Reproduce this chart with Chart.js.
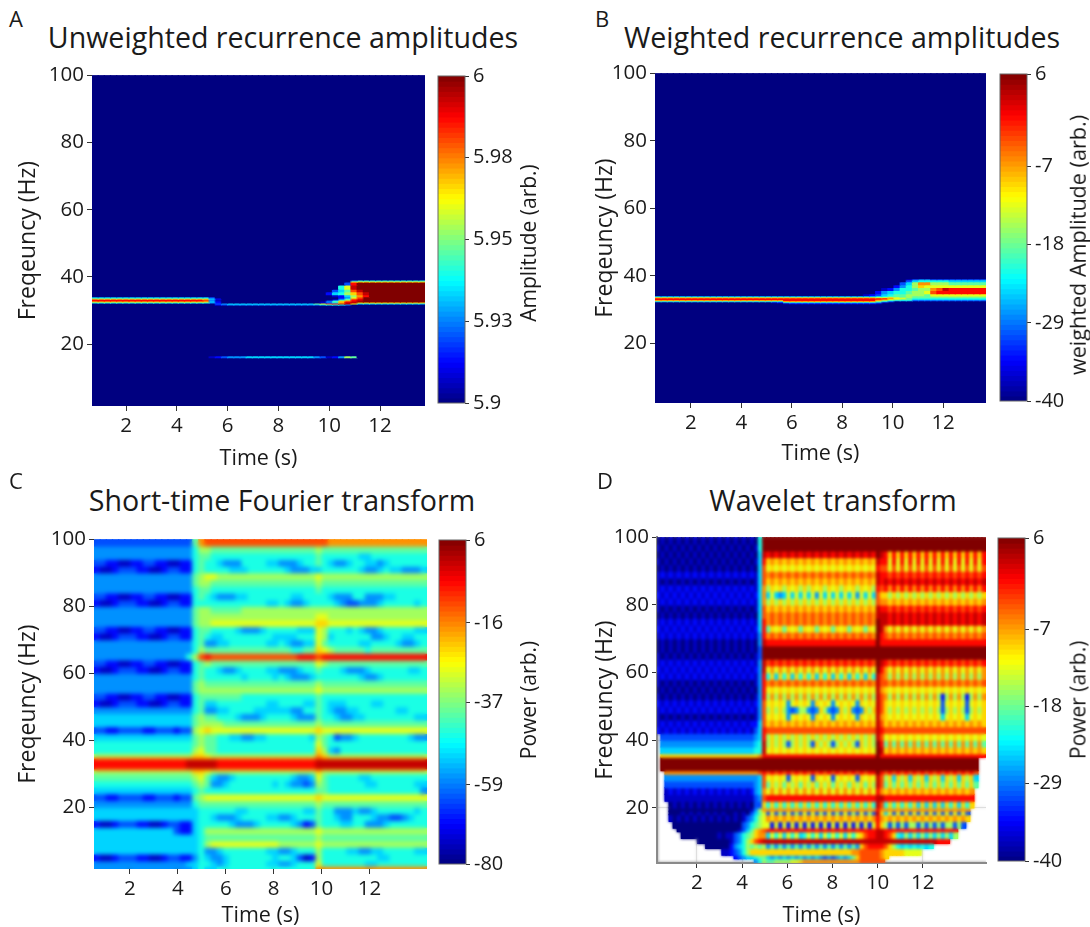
<!DOCTYPE html>
<html>
<head>
<meta charset="utf-8">
<title>Recurrence amplitudes</title>
<script src="https://cdn.jsdelivr.net/npm/chart.js@4"></script>
<style>
  html, body { margin: 0; padding: 0; background: #fff; }
  body { position: relative; width: 1090px; height: 927px; overflow: hidden; font-family: "Open Sans", sans-serif; color: #1a1a1a; }
  canvas { position: absolute; }
  .label { position: absolute; white-space: nowrap; line-height: 1; transform: translate(-50%, -50%); }
  .side { position: absolute; white-space: nowrap; line-height: 1; writing-mode: vertical-rl; transform: translate(-50%, -50%) rotate(180deg); }
</style>
</head>
<body>
<script>
// ===============================
// Data (cells: hex level 0-f from low to high on the colour bar, '.' = no data)
// ===============================
const blankRow = '0'.repeat(54);

const timeTicksAll = [2, 4, 6, 8, 10, 12];
const freqTicks = [20, 40, 60, 80, 100];

const barTicksA = [5.9, 5.925, 5.95, 5.975, 6];
const barLabelsA = ['5.9', '5.93', '5.95', '5.98', '6'];
const barTicksB = [-40, -29, -18, -7, 6];
const barLabelsB = ['-40', '-29', '-18', '-7', '6'];
const barTicksC = [-80, -59, -37, -16, 6];
const barLabelsC = ['-80', '-59', '-37', '-16', '6'];

const edgesA = [100, 39.1, 38.8, 38.5, 37.6, 36.4, 35.6, 34.7, 34.1, 33.8, 33.5, 33.2, 32.9, 32.6, 32.3, 32.0, 31.7, 16.6, 16.0, 1.6];
const rowsA = [
  blankRow,
  '000000 000000 000000 000000 000000 000000 000000 466666 666666',
  '000000 000000 000000 000000 000000 000000 000000 9aaaaa aaaaaa',
  '000000 000000 000000 000000 000000 000000 000003 dfffff ffffff',
  '000000 000000 000000 000000 000000 000000 000069 efffff ffffff',
  '000000 000000 000000 000000 000000 000000 000357 ceffff ffffff',
  '000000 000000 000000 000000 000000 000000 002568 acefff ffffff',
  '000000 000000 000000 000000 000000 000000 000125 8bdfff ffffff',
  '555555 555555 555555 530000 000000 000000 000024 9cffff ffffff',
  '999999 999999 999999 952000 000000 000000 000036 bdffff ffffff',
  'dddddd dddddd dddddd c41000 000000 000000 000258 deffff ffffff',
  'dddddd dddddd dddddd c41000 000000 000000 00369b deffff ffffff',
  'aaaaaa aaaaaa aaaaaa a52000 000000 000000 0147bd efffff ffffff',
  '666666 666666 666666 642000 000000 000000 0135ae eaaaaa aaaaaa',
  '000000 000000 000000 003455 555555 555555 79cdee 955555 555555',
  '000000 000000 000000 002344 444444 444444 456664 000000 000000',
  blankRow,
  '000000 000000 000000 012344 455555 555555 431248 700000 000000',
  blankRow
];

const edgesB = [100, 39.2, 38.9, 38.3, 37.4, 36.6, 35.7, 34.8, 34.2, 33.9, 33.6, 33.3, 33.0, 32.7, 32.4, 32.1, 31.8, 2.4];
const rowsB = [
  blankRow,
  '000000 000000 000000 000000 000000 000000 000001 344333 333333',
  '000000 000000 000000 000000 000000 000000 000003 566666 555555',
  '000000 000000 000000 000000 000000 000000 000035 8bb888 777777',
  '000000 000000 000000 000000 000000 000000 000246 8a9999 999999',
  '000000 000000 000000 000000 000000 000000 012466 788bce dddddd',
  '000000 000000 000000 000000 000000 000000 245667 889cdd dddddd',
  '000000 000000 000000 000000 000000 000012 356778 887999 999999',
  '555555 555555 555555 555555 555555 555555 667778 777888 888888',
  'aaaaaa aaaaaa aaaaaa aaaaaa aaaaaa aaaaaa 99a988 777777 777777',
  'dddddd dddddd dddddd dddddd dddddd dddddd ddb997 666666 666666',
  'dddddd dddddd dddddd dddddd dddddd dddddd cb9877 555555 555555',
  'aaaaaa aaaaaa aaaaaa aaaddd dddddd dddddd a86555 333333 333333',
  '555555 555555 555555 555aaa aaaaaa aaaaaa 753000 000000 000000',
  '000000 000000 000000 012555 555555 555555 410000 000000 000000',
  '000000 000000 000000 000122 222222 222222 100000 000000 000000',
  blankRow
];

const edgesC = [100, 98, 96, 94, 92, 90, 88, 86, 84, 82, 80, 78, 76, 74, 72, 70, 68, 66, 64, 62, 60, 58, 56, 54, 52, 50, 48, 46, 44, 42, 40, 38, 36, 35, 34.5, 31.5, 31, 30, 28, 26, 24, 22, 20, 18, 16, 14, 12, 10, 8, 6, 4, 2.5, 1.5];
const rowsC = [
  '333333 333333 33337b cccccc cccccc cccccc ccbbbb bbbbbb bbbbbb',
  '444444 444444 444468 877777 777777 777777 877777 777777 777777',
  '444444 444444 444467 766666 666666 666666 766666 655666 666666',
  '332211 223322 112267 665444 666655 444566 765445 665545 666666',
  '211233 322112 332267 666655 566666 654445 566666 654456 554445',
  '444444 444444 444478 998888 888888 888888 988888 888888 888888',
  '444444 444444 444478 877777 777777 777777 877777 777777 777777',
  '444444 444444 444467 766666 666666 666666 766666 666666 666666',
  '332211 223322 112267 654445 566666 665566 665444 664445 566666',
  '211233 322112 332266 666666 666655 654456 666543 344456 666656',
  '444444 444444 444478 877777 888888 888888 888888 888888 888888',
  '444444 444444 444478 888888 888888 888888 998888 888888 888888',
  '444444 444444 444478 899999 999999 999999 aa9999 999999 999999',
  '332211 223322 112267 766665 444566 666555 986665 654456 666655',
  '211233 322112 332267 655666 666665 555666 985666 666445 665566',
  '444444 444444 444467 445566 666655 654455 976666 655666 654456',
  '444444 444444 444468 777777 777777 776677 a98777 776777 777777',
  '444444 444444 44468c dccccc cccccc cccddd cddddd dddddd dddddd',
  '332211 223322 112267 877777 777777 777777 987777 777777 777777',
  '211233 322112 332267 665445 666655 444566 766654 445666 666556',
  '444444 444444 444467 666666 566665 654445 666666 654456 666666',
  '444444 444444 444478 777777 777777 777777 877777 777777 777777',
  '444444 444444 444478 888888 888888 888888 988888 888888 888888',
  '332211 223322 112267 777777 666666 666666 766666 666666 666666',
  '211233 322112 332267 556666 666655 666655 765556 666556 666666',
  '444444 444444 444467 445566 665555 554466 765445 566666 655666',
  '555555 555555 555578 776665 444566 665444 766544 556666 666655',
  '555555 555555 555578 888777 777777 777777 877777 777777 777777',
  '332233 332233 323389 a99999 999999 999999 a99999 999999 999999',
  '555555 555555 555578 776655 445566 666665 876344 566666 666544',
  '666666 666666 666678 776666 666666 666666 976666 666666 666666',
  '666666 666666 666689 776666 666666 666666 a85466 666666 666666',
  '888888 888888 8888aa 988888 888888 888888 ba8888 888888 888888',
  'bbbbbb bbbbbb bbbbbb bbbbbb bbbbbb bbbbbb cbbbbb bbbbbb bbbbbb',
  'dddddd dddddd dddeee eedddd dddddd dddddd eeeeee eeeeee eeeeee',
  'bbbbbb bbbbbb bbbbbb bbbbbb bbbbbb bbbbbb cbbbbb bbbbbb bbbbbb',
  '888888 888888 8888aa 988888 888888 888888 a88888 888888 888888',
  '777777 777777 777789 754456 666666 665445 976666 655666 666666',
  '666666 666666 666678 744566 666665 654434 876666 665566 666655',
  '555555 555555 555567 666666 666666 666666 776666 666666 666664',
  '332233 332233 323378 999999 999999 999999 a99999 999999 999999',
  '444444 444444 444467 777777 777777 777777 877777 777777 777777',
  '555555 555555 555556 666665 566666 666655 766444 544566 666656',
  '555555 555555 555556 654445 666655 445666 766544 666544 334566',
  '211233 322112 332256 666654 445666 665423 766655 664445 666666',
  '555555 555555 532256 888888 888888 888888 988888 888888 888888',
  '555555 555555 555556 777777 777777 777777 877777 777777 777777',
  '555555 555555 555556 899999 999999 888888 988888 888888 888888',
  '555555 555555 555556 445666 666655 445666 866665 544556 666655',
  '211233 322112 332246 544566 666665 665312 866666 666655 666666',
  '444444 444444 444556 654566 666655 445666 966666 665566 666666',
  '444444 444444 444456 556666 666666 666666 bbbbbb bbbbbb bbbbbb'
];

const edgesD = [100, 98, 96, 94, 92, 90, 88, 86, 84, 82, 80, 78, 76, 74, 72, 70, 68, 66, 64, 62, 60, 58, 56, 54, 52, 50, 48, 46, 44, 42, 40, 38, 36, 35, 31, 30, 28, 26, 24, 22, 20, 19, 18, 16, 14, 13, 11, 9.5, 8, 6, 5, 3.7];
const rowsD = [
  '010101010 101010101 01010106f fffffffff fffffffff fffffffff fffffffff fffffffff fffffffff',
  '101010101 010101010 10101016f fffffffff fffffffff fffffffff fffffffff fffffffff fffffffff',
  '010101010 101010101 01010105e dedededed edededede dedededed fedadadad adadadada dadadadad',
  '101010101 010101010 10101015d ababababa babababab ababababa edd9d9d9d 9d9d9d9d9 d9d9d9d9d',
  '010101010 101010101 01010105c 9a9a9a9a9 a9a9a9a9a 9a9a9a9a9 dcc9c9c9c 9c9c9c9c9 c9c9c9c9c',
  '121212121 212121212 12121215c bcbcbcbcb cbcbcbcbc bcbcbcbcb eddcdcdcd cdcdcdcdc dcdcdcdcd',
  '101010101 010101010 10101015c ababababa babababab ababababa edededede dedededed edededede',
  '121212121 212121212 12121215b 8a9a8a9a8 a8a9a8a9a 8a9a8a9a8 dcdbdbdbd bdbdbdbdb dbdbdbdbd',
  '212121212 121212121 21212125b 595459595 959495959 595949595 caa8a8a8a 8a8a8a8a8 a8a8a8a8a',
  '121212121 212121212 12121215b 8a8a8a8a8 a8a8a8a8a 8a8a8a8a8 cbbababab ababababa babababab',
  '101010101 010101010 10101015c ababababa babababab ababababa eddcdcdcd cdcdcdcdc dcdcdcdcd',
  '010101010 101010101 01010105c bcbcbcbcb cbcbcbcbc bcbcbcbcb eeededede dedededed edededede',
  '121212121 212121212 12121215d bcbcbcbcb cbcbcbcbc bcbcbcbcb feededede dedededed edededede',
  '212121212 121212121 21212125d 7a9a7a9a7 a9a7a9a7a 9a7a9a7a9 feb9b9b9b 9b9b9b9b9 b9b9b9b9b',
  '121212121 212121212 12121214d bcbcbcbcb cbcbcbcbc bcbcbcbcb fdcbcbcbc bcbcbcbcb cbcbcbcbc',
  '010101010 101010101 01010104e ddddddddd ddddddddd ddddddddd fdddddddd ddddddddd ddddddddd',
  '010101010 101010101 01010103f fffffffff fffffffff fffffffff fffffffff fffffffff fffffffff',
  '101010101 010101010 10101013f fffffffff fffffffff fffffffff fffffffff fffffffff fffffffff',
  '121212121 212121212 12121214e cdcdcdcdc dcdcdcdcd cdcdcdcdc fedcdcdcd cdcdcdcdc dcdcdcdcd',
  '212121212 121212121 21212124e 9b9b9b9b9 b9b9b9b9b 9b9b9b9b9 fdb9b9b9b 9b9b9b9b9 b9b9b9b9b',
  '121212121 212121212 12121214d 6a5a6a5a6 a6a5a6a5a 6a5a6a5a6 ecb8b8b8b 8b8b8b8b8 b8b8b8b8b',
  '101010101 010101010 10101014d bcbcbcbcb cbcbcbcbc bcbcbcbcb eccbcbcbc bcbcbcbcb cbcbcbcbc',
  '010101010 101010101 01010104d 9a9a9a9a9 a9a9a9a9a 9a9a9a9a9 eba9a9a9a 9a9a9a9a9 a9a9a9a9a',
  '101010101 010101010 10101014d 8b8b8b8b8 b8b8b8b8b 8b8b8b8b8 ecb8b8b8b 8b8b8b828 b8b828b8b',
  '212121212 121212121 21212124c 9a9a949a9 a94a9a949 a9a94a9a9 eca9a9a9a 9a9a9a939 a9a939a9a',
  '121212121 212121212 12121214c 8a8a84348 8434a8434 a8a434a8a eca8a8a8a 8a8a8a838 a8a838a8a',
  '101010101 010101010 10101014c 9a9a949a9 a94a9a949 a9a94a9a9 eba9a9a9a 9a9a9a959 a9a959a9a',
  '121212121 212121212 12121225c ababababa babababab ababababa ecabababa babababab ababababa',
  '212121212 121212121 21212135d ccccccccc ccccccccc ccccccccc edccccccc ccccccccc ccccccccc',
  '.33333333 333333333 33333345d 8a8a8a8a8 a8a8a8a8a 8a8a8a8a8 ec9a9a9a9 a9a9a9a9a 9a9a9a9a9',
  '.44444444 444444444 44444456e 8a8a838a8 a83a8a838 a8a83a8a8 fd7b7b7b7 b7b7b7b7b 7b7b7b7b7',
  '.55555555 555555555 55555566e 9a9a9a9a9 a9a9a9a9a 9a9a9a9a9 feabababa babababab ababababa',
  '.aaaaaaaa aaaaaaaaa aaaaaaabd ddddddddd ddddddddd ddddddddd fdddddddd ddddddddd ddddddddd',
  '.ffffffff fffffffff fffffffff fffffffff fffffffff fffffffff fffffffff fffffffff fffffff..',
  '..bbbbbbb bbbbbbbbb bbbbbbbcd cdcdcdcdc dcdcdcdcd cdcdcdcdd fdcdcdcdc dcdcdcdcd cdcdcdc..',
  '..4444444 444444444 44444445c 9a9a939a9 a93a9a939 a9a93a9a9 ec8a5a8a5 a8a5a8a5a 8a5a8a5..',
  '..3333333 333333333 33333345c 7a8a7a8a7 a8a7a8a7a 8a7a8a7a8 ec7a7a7a7 a7a7a7a7a 7a7a7a7..',
  '..1212121 212121212 12121245b 9b9b9b9b9 b9b9b9b9b 9b9b9b9b9 dbabababa babababab ababab...',
  '..1111111 111111111 11111134c ddddddddd ddddddddd ddddddddd eeddddddd ddddddddd dddddd...',
  '...010101 010101010 10101033a 6a6a6a6a6 a6a6a6a6a 6a6a6a6a6 ec6a6a6a6 a5a5a5a5a 6a5a6a...',
  '...000000 000000000 00000148b bbbbbbbbb bbbbbbbbb bbbbbbbbb dbbbbbbbb bbbbbbbbb bbbbb....',
  '...000101 010101010 010103579 393839383 939383938 393839383 ea5939393 939393939 39393....',
  '...101010 101010101 010134689 babababab ababababa babababab dbabababa babababab ababa....',
  '....00000 000000000 000346789 929292929 292929292 929292929 da8383838 838383838 8383.....',
  '.....0000 000000000 001357abc ddddddddd ddddddddd ddddddddd eeddddddd ddddddddd dd.......',
  '......000 000000101 134678abb 596959695 696959696 95969acdd eedca6585 858585858 58.......',
  '......... .00000000 13468acde eeeeeeeee eeeeeeeee eeeeeeeee eeeeeeeee eeeeeeddd .........',
  '......... ...000000 245687878 474747474 747474747 47474acdd ddca86565 65656.... .........',
  '......... .......11 23468aaaa aaaaaaaaa aaaaaaaaa aaabbcccc cbaaaaa99 99....... .........',
  '......... ......... .23455677 545454545 454543434 5457acccc cba...... ......... .........',
  '......... ......... ......468 77888899a bbbbbbbbb bbbbbcccc cc....... ......... .........'
];

// ===============================
// Colour map (blue -> cyan -> yellow -> red)
// ===============================
const jetStops = [
  [0, [0, 0, 128]], [0.125, [0, 0, 255]], [0.375, [0, 255, 255]],
  [0.625, [255, 255, 0]], [0.875, [255, 0, 0]], [1, [128, 0, 0]]
];

function jet(f) {
  f = Math.max(0, Math.min(1, f));
  for (let i = 1; i < jetStops.length; i++) {
    if (f <= jetStops[i][0]) {
      const [f0, c0] = jetStops[i - 1];
      const [f1, c1] = jetStops[i];
      const t = (f - f0) / (f1 - f0);
      const c = c0.map((v, n) => Math.round(v + (c1[n] - v) * t));
      return 'rgb(' + c.join(',') + ')';
    }
  }
  return 'rgb(128,0,0)';
}

// ===============================
// Small plugins
// ===============================
// softens the cells a bit, the original is a resampled raster
const soften = {
  id: 'soften',
  afterDatasetsDraw(chart, args, opts) {
    if (!opts.blur) return;
    const { ctx, canvas, chartArea: a } = chart;
    ctx.save();
    ctx.beginPath();
    ctx.rect(a.left, a.top, a.width, a.height);
    ctx.clip();
    ctx.filter = 'blur(' + opts.blur + 'px)';
    ctx.drawImage(canvas, 0, 0);
    ctx.restore();
  }
};

const frame = {
  id: 'frame',
  afterDraw(chart, args, opts) {
    if (!opts.color) return;
    const { ctx, chartArea: a } = chart;
    ctx.save();
    ctx.strokeStyle = opts.color;
    ctx.lineWidth = 1;
    ctx.strokeRect(a.left, a.top, a.width, a.height);
    ctx.restore();
  }
};

Chart.defaults.font.family = '"Open Sans", sans-serif';
Chart.defaults.color = '#1a1a1a';
Chart.defaults.animation = false;

function addCanvas(left, top, width, height) {
  const c = document.createElement('canvas');
  c.width = width;
  c.height = height;
  c.style.left = left + 'px';
  c.style.top = top + 'px';
  c.style.width = width + 'px';
  c.style.height = height + 'px';
  document.body.appendChild(c);
  return c.getContext('2d');
}

function addText(cls, text, x, y, size, weight) {
  const d = document.createElement('div');
  d.className = cls;
  d.textContent = text;
  d.style.left = x + 'px';
  d.style.top = y + 'px';
  d.style.fontSize = size + 'px';
  if (weight) d.style.fontWeight = weight;
  document.body.appendChild(d);
}

// one dataset per frequency row, floating bars between the row's edges
function heatDatasets(p) {
  const cols = p.rows[0].replace(/ /g, '').length;
  const step = (p.time[1] - p.time[0]) / cols;
  return p.rows.map((row, r) => {
    const cells = row.replace(/ /g, '');
    if (cells.length !== cols) throw new Error(p.name + ' row ' + r + ' has ' + cells.length);
    const data = [], colors = [];
    for (let k = 0; k < cols; k++) {
      if (cells[k] === '.') continue;
      data.push({ x: p.time[0] + (k + 0.5) * step, y: [p.edges[r + 1], p.edges[r]] });
      colors.push(jet(parseInt(cells[k], 16) / 15));
    }
    return {
      data, backgroundColor: colors, borderWidth: 0, inflateAmount: 0.6,
      barPercentage: 1, categoryPercentage: 1, grouped: false
    };
  });
}

function drawPanel(p) {
  if (p.rows.length !== p.edges.length - 1) throw new Error(p.name + ' rows/edges');
  const left = p.yTitleX - 14, top = p.plot.t - 14;
  const width = p.plot.r - left + 8, height = p.xTitleY + 14 - top;
  const axisLine = p.axisLine
    ? { display: true, color: '#8a8a8a', width: 2 }
    : { display: false };
  new Chart(addCanvas(left, top, width, height), {
    type: 'bar',
    data: { datasets: heatDatasets(p) },
    plugins: [soften],
    options: {
      responsive: false,
      events: [],
      layout: { padding: { top: 14, right: 8, left: 0, bottom: 0 } },
      plugins: { legend: { display: false }, tooltip: { enabled: false }, soften: { blur: p.blur } },
      scales: {
        x: {
          type: 'linear', offset: false, min: p.time[0], max: p.time[1],
          afterBuildTicks: s => { s.ticks = timeTicksAll.map(value => ({ value })); },
          afterFit: s => { s.height = height - (p.plot.b - top); },
          border: axisLine,
          grid: { offset: false, drawOnChartArea: !!p.axisLine, color: '#dedede', tickColor: '#333', tickLength: 5 },
          ticks: { font: { size: 20.5 }, maxRotation: 0, padding: 3 },
          title: { display: true, text: 'Time (s)', font: { size: 21.5 }, padding: 0 }
        },
        y: {
          type: 'linear', min: p.edges[p.edges.length - 1], max: 100,
          afterBuildTicks: s => { s.ticks = freqTicks.map(value => ({ value })); },
          afterFit: s => { s.width = p.plot.l - left; },
          border: axisLine,
          grid: { drawOnChartArea: !!p.axisLine, color: '#dedede', tickColor: '#333', tickLength: 5 },
          ticks: { font: { size: 20.5 }, padding: 3 },
          title: { display: true, text: 'Freqeuncy (Hz)', font: { size: 23 }, padding: 0 }
        }
      }
    }
  });

  // colour bar
  const b = p.bar;
  const barLeft = b.l - 3, barTop = b.t - 14, barW = b.labelEnd - barLeft, barH = b.b - b.t + 28;
  const lo = b.ticks[0], hi = b.ticks[b.ticks.length - 1];
  const levels = [];
  for (let i = 0; i < 64; i++) levels.push(lo + (i + 0.5) * (hi - lo) / 64);
  new Chart(addCanvas(barLeft, barTop, barW, barH), {
    type: 'bar',
    data: {
      datasets: [{
        data: levels.map(v => ({ y: v, x: [0, 1] })),
        backgroundColor: levels.map(v => jet((v - lo) / (hi - lo))),
        borderWidth: 0, inflateAmount: 0.6, barPercentage: 1, categoryPercentage: 1
      }]
    },
    plugins: [frame],
    options: {
      indexAxis: 'y',
      responsive: false,
      events: [],
      layout: { padding: { top: 14, bottom: 14, left: 3, right: 0 } },
      plugins: { legend: { display: false }, tooltip: { enabled: false }, frame: { color: '#666' } },
      scales: {
        x: { type: 'linear', min: 0, max: 1, display: false },
        y: {
          type: 'linear', position: 'right', offset: false, min: lo, max: hi,
          afterBuildTicks: s => { s.ticks = b.ticks.map(value => ({ value })); },
          afterFit: s => { s.width = b.labelEnd - b.r; },
          border: { display: false },
          grid: { offset: false, drawOnChartArea: false, tickColor: '#333', tickLength: 4 },
          ticks: {
            font: { size: 20 }, padding: 4,
            callback: v => b.labels[b.ticks.indexOf(v)]
          }
        }
      }
    }
  });

  addText('side', b.title, b.titleX, b.titleY, b.titleSize);
  addText('label', p.title, p.titlePos[0], p.titlePos[1], 28.6);
  addText('label', p.letter, p.letterPos[0], p.letterPos[1], 22, 500);
}

// ===============================
// Panels
// ===============================
drawPanel({
  name: 'A', letter: 'A', letterPos: [16, 18], title: 'Unweighted recurrence amplitudes', titlePos: [283, 37],
  rows: rowsA, edges: edgesA, time: [0.66, 13.77], blur: 0.6,
  plot: { l: 92, t: 74, r: 425, b: 406 }, yTitleX: 29, xTitleY: 458,
  bar: { l: 438, r: 465, t: 74, b: 405, labelEnd: 515, ticks: barTicksA, labels: barLabelsA,
    title: 'Amplitude (arb.)', titleX: 528, titleY: 243, titleSize: 21 }
});

drawPanel({
  name: 'B', letter: 'B', letterPos: [602, 18], title: 'Weighted recurrence amplitudes', titlePos: [842, 37],
  rows: rowsB, edges: edgesB, time: [0.58, 13.7], blur: 0.6,
  plot: { l: 655, t: 72, r: 986, b: 403 }, yTitleX: 606, xTitleY: 453,
  bar: { l: 1000, r: 1027, t: 72, b: 403, labelEnd: 1066, ticks: barTicksB, labels: barLabelsB,
    title: 'weighted Amplitude (arb.)', titleX: 1078, titleY: 245, titleSize: 21.6 }
});

drawPanel({
  name: 'C', letter: 'C', letterPos: [16, 480], title: 'Short-time Fourier transform', titlePos: [282, 500],
  rows: rowsC, edges: edgesC, time: [0.5, 14.4], blur: 2.2,
  plot: { l: 94, t: 538, r: 427, b: 869 }, yTitleX: 29, xTitleY: 915,
  bar: { l: 439, r: 466, t: 538, b: 866, labelEnd: 512, ticks: barTicksC, labels: barLabelsC,
    title: 'Power (arb.)', titleX: 528, titleY: 700, titleSize: 21 }
});

drawPanel({
  name: 'D', letter: 'D', letterPos: [605, 480], title: 'Wavelet transform', titlePos: [833, 500],
  rows: rowsD, edges: edgesD, time: [0.23, 14.8], blur: 1.4, axisLine: true,
  plot: { l: 657, t: 536, r: 986, b: 863 }, yTitleX: 606, xTitleY: 915,
  bar: { l: 998, r: 1025, t: 536, b: 863, labelEnd: 1066, ticks: barTicksB, labels: barLabelsB,
    title: 'Power (arb.)', titleX: 1078, titleY: 700, titleSize: 21 }
});
</script>
</body>
</html>
